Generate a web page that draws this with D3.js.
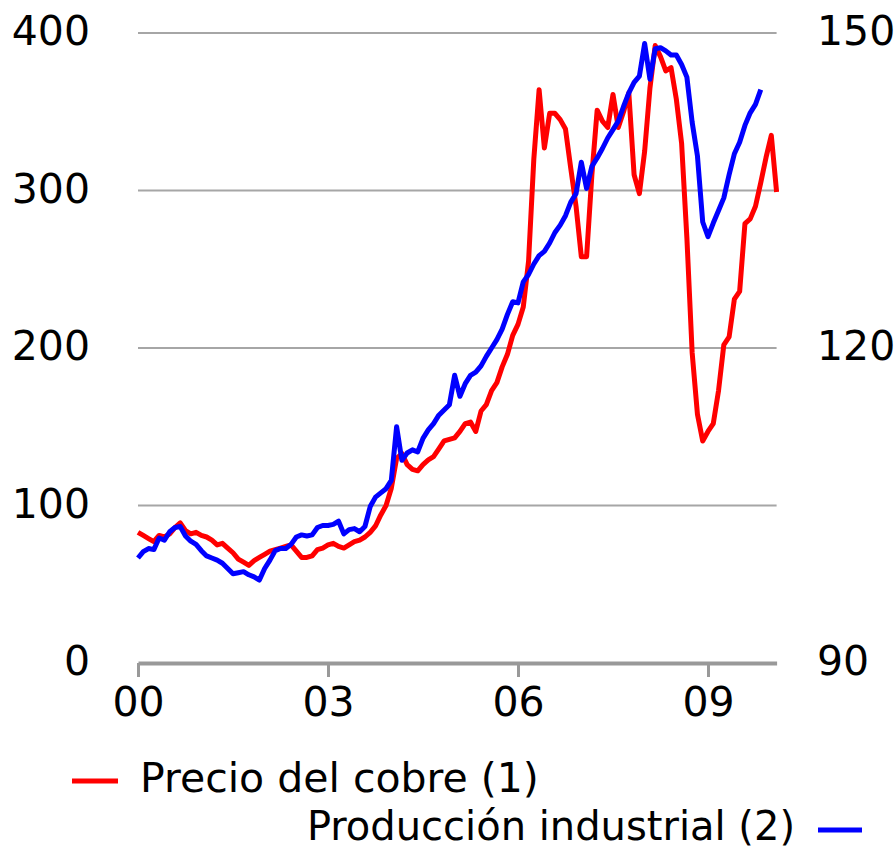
<!DOCTYPE html>
<html>
<head>
<meta charset="utf-8">
<script src="https://cdn.jsdelivr.net/npm/d3@7"></script>
<style>
  body { margin: 0; background: #fff; }
  svg { display: block; font-family: "DejaVu Sans", sans-serif; }
</style>
</head>
<body>
<div id="chart"></div>
<script>
// monthly, Jan 2000 = 0
var cobre = [83, 81, 79, 77, 81, 80, 82, 86, 89, 84, 82, 83,
  81, 80, 78, 75, 76, 73, 70, 66, 64, 62, 65, 67,
  69, 71, 72, 73, 74, 75, 71, 67, 67, 68, 72, 73,
  75, 76, 74, 73, 75, 77, 78, 80, 83, 87, 94, 100,
  111, 130, 133, 126, 123, 122, 126, 129, 131, 136, 141, 142,
  143, 147, 152, 153, 147, 160, 164, 173, 178, 188, 196, 208,
  215, 226, 255, 320, 364, 327, 349, 349, 345, 339, 314, 290,
  258, 258, 310, 351, 344, 340, 361, 340, 350, 362, 310, 298,
  325, 365, 392, 385, 376, 378, 358, 330, 270, 197, 158, 141,
  147, 152, 173, 202, 207, 231, 236, 279, 282, 290, 305, 321,
  335, 299];

var produccion = [100.0, 100.6, 100.9, 100.8, 101.9, 101.7, 102.5, 102.9, 103.0, 102.1, 101.6, 101.3,
  100.7, 100.2, 100.0, 99.8, 99.5, 99.0, 98.5, 98.6, 98.7, 98.4, 98.2, 97.9,
  99.0, 99.8, 100.7, 100.9, 100.9, 101.3, 102.0, 102.2, 102.1, 102.2, 102.9, 103.1,
  103.1, 103.2, 103.5, 102.3, 102.7, 102.8, 102.5, 103.0, 104.9, 105.8, 106.2, 106.6,
  107.4, 112.5, 109.3, 110.0, 110.3, 110.1, 111.4, 112.2, 112.8, 113.6, 114.1, 114.6,
  117.4, 115.4, 116.6, 117.4, 117.7, 118.3, 119.2, 120.0, 120.8, 121.8, 123.2, 124.4,
  124.3, 126.3, 127.0, 128.0, 128.8, 129.2, 130.0, 131.0, 131.7, 132.6, 133.9, 134.7,
  137.7, 135.2, 137.3, 138.1, 139.0, 140.0, 140.8, 141.6, 143.0, 144.3, 145.3, 145.9,
  149.0, 145.6, 148.5, 148.6, 148.3, 147.9, 147.9, 147.0, 145.8, 141.5, 138.3, 132.0,
  130.6, 131.9, 133.1, 134.3, 136.5, 138.5, 139.6, 141.2, 142.4, 143.2, 144.6];

var xTicks = [0, 36, 72, 108];
var xTickLabels = ["00", "03", "06", "09"];
var leftTicks = [0, 100, 200, 300, 400];
var rightTicks = [90, 120, 150];
var series = ["Precio del cobre (1)", "Producción industrial (2)"];

var width = 896, height = 850,
    x0 = 138, x1 = 776.6, yTop = 33, yBottom = 663;

var svg = d3.select("#chart").append("svg")
    .attr("width", width)
    .attr("height", height);

var x = d3.scaleLinear().domain([0, 121]).range([x0, x1]);
var yLeft = d3.scaleLinear().domain([0, 400]).range([yBottom, yTop]);
var yRight = d3.scaleLinear().domain([90, 150]).range([yBottom, yTop]);

// gridlines
svg.append("g")
  .selectAll("line")
  .data(leftTicks.filter(d => d > 0))
  .join("line")
    .attr("x1", x0)
    .attr("x2", x1)
    .attr("y1", d => yLeft(d))
    .attr("y2", d => yLeft(d))
    .attr("stroke", "#a6a6a6")
    .attr("stroke-width", 2);

// bottom axis
var xAxis = d3.axisBottom(x)
    .tickValues(xTicks)
    .tickFormat((d, i) => xTickLabels[i])
    .tickSizeOuter(0)
    .tickSizeInner(14)
    .tickPadding(10);

var gx = svg.append("g")
    .attr("transform", "translate(0," + yBottom + ")")
    .call(xAxis);
gx.select(".domain").attr("stroke", "#999").attr("stroke-width", 4);
gx.selectAll(".tick line").attr("stroke", "#999").attr("stroke-width", 3);
gx.selectAll(".tick text")
    .attr("font-size", "41px")
    .attr("fill", "#000")
    .attr("font-family", "DejaVu Sans, sans-serif");

// left labels
svg.append("g")
  .selectAll("text")
  .data(leftTicks)
  .join("text")
    .attr("x", 90)
    .attr("y", d => yLeft(d) + 12)
    .attr("text-anchor", "end")
    .attr("font-size", "41px")
    .text(d => d);

// right labels
svg.append("g")
  .selectAll("text")
  .data(rightTicks)
  .join("text")
    .attr("x", 817)
    .attr("y", d => yRight(d) + 12)
    .attr("font-size", "41px")
    .text(d => d);

var lineCobre = d3.line()
    .x((d, i) => x(i))
    .y(d => yLeft(d));

var lineProd = d3.line()
    .x((d, i) => x(i))
    .y(d => yRight(d));

svg.append("path")
    .datum(cobre)
    .attr("d", lineCobre)
    .attr("fill", "none")
    .attr("stroke", "#ff0000")
    .attr("stroke-width", 5)
    .attr("stroke-linejoin", "round");

svg.append("path")
    .datum(produccion)
    .attr("d", lineProd)
    .attr("fill", "none")
    .attr("stroke", "#0000ff")
    .attr("stroke-width", 5)
    .attr("stroke-linejoin", "round");

// legend
var legend = svg.append("g");

legend.append("line")
    .attr("x1", 72).attr("x2", 118)
    .attr("y1", 781).attr("y2", 781)
    .attr("stroke", "#ff0000")
    .attr("stroke-width", 5);
legend.append("text")
    .attr("x", 140)
    .attr("y", 792)
    .attr("font-size", "41px")
    .text(series[0]);

legend.append("text")
    .attr("x", 795)
    .attr("y", 840)
    .attr("text-anchor", "end")
    .attr("font-size", "40px")
    .text(series[1]);
legend.append("line")
    .attr("x1", 818).attr("x2", 862)
    .attr("y1", 830).attr("y2", 830)
    .attr("stroke", "#0000ff")
    .attr("stroke-width", 5);
</script>
</body>
</html>
